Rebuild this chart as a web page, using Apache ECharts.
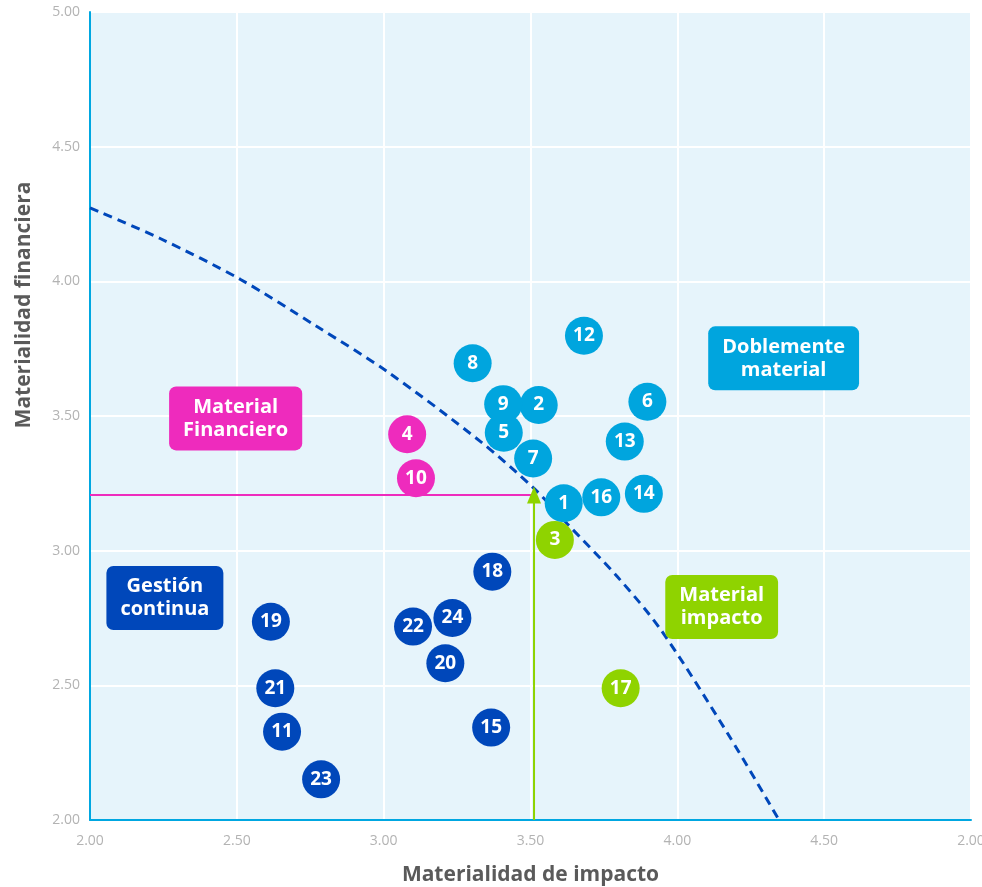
<!DOCTYPE html>
<html>
<head>
<meta charset="utf-8">
<script src="https://cdn.jsdelivr.net/npm/echarts@6/dist/echarts.min.js"></script>
<style>
  html, body { margin: 0; padding: 0; background: #fff; }
  #chart { width: 982px; height: 887px; }
</style>
</head>
<body>
<div id="chart"></div>
<script>
// Datos de la matriz de doble materialidad
const ids = [1, 2, 3, 4, 5, 6, 7, 8, 9, 10, 11, 12, 13, 14, 15, 16, 17, 18, 19, 20, 21, 22, 23, 24];
const impacto = [3.613, 3.528, 3.583, 3.080, 3.409, 3.898, 3.509, 3.303, 3.407, 3.110, 2.654, 3.682,
  3.821, 3.886, 3.366, 3.741, 3.807, 3.370, 2.616, 3.210, 2.631, 3.100, 2.787, 3.234];
const financiera = [3.176, 3.541, 3.040, 3.432, 3.438, 3.553, 3.342, 3.696, 3.544, 3.269, 2.328, 3.798,
  3.405, 3.211, 2.343, 3.198, 2.489, 2.922, 2.736, 2.582, 2.489, 2.718, 2.151, 2.750];
const grupos = ['doble', 'doble', 'impacto', 'financiero', 'doble', 'doble', 'doble', 'doble', 'doble',
  'financiero', 'gestion', 'doble', 'doble', 'doble', 'gestion', 'doble', 'impacto', 'gestion',
  'gestion', 'gestion', 'gestion', 'gestion', 'gestion', 'gestion'];

// Curva de umbral (trazo discontinuo)
const curvaX = [2.0, 2.239, 2.511, 2.773, 3.012, 3.33, 3.511, 3.625, 3.796, 3.944, 4.171, 4.346];
const curvaY = [4.273, 4.159, 4.008, 3.832, 3.665, 3.405, 3.232, 3.10, 2.903, 2.706, 2.322, 2.0];

// Umbrales
const umbralFinanciero = 3.207;
const umbralImpacto = 3.512;

// Ejes
const xTickLabels = ['2.00', '2.50', '3.00', '3.50', '4.00', '4.50', '2.00'];
const yTickLabels = ['2.00', '2.50', '3.00', '3.50', '4.00', '4.50', '5.00'];

// Etiquetas de cuadrantes
const cuadrantes = [
  { grupo: 'financiero', texto: 'Material\nFinanciero', x: 2.496, y: 3.491 },
  { grupo: 'doble', texto: 'Doblemente\nmaterial', x: 4.362, y: 3.714 },
  { grupo: 'gestion', texto: 'Gestión\ncontinua', x: 2.255, y: 2.824 },
  { grupo: 'impacto', texto: 'Material\nimpacto', x: 4.151, y: 2.791 }
];

const colores = {
  doble: '#00a5de',
  financiero: '#ee2bbd',
  gestion: '#0047ba',
  impacto: '#8fd300'
};

const fuente = "'Open Sans', sans-serif";

// series de burbujas, una por grupo
const burbujas = ['gestion', 'financiero', 'impacto', 'doble'].map((g) => ({
  name: g,
  type: 'scatter',
  z: 5,
  symbolSize: 38,
  itemStyle: { color: colores[g], opacity: 1 },
  label: {
    show: true,
    position: 'inside',
    color: '#fff',
    fontFamily: fuente,
    fontWeight: 'bold',
    fontSize: 19,
    formatter: (p) => String(p.value[2])
  },
  data: ids
    .map((id, i) => [impacto[i], financiera[i], id, grupos[i]])
    .filter((d) => d[3] === g)
    .map((d) => [d[0], d[1], d[2]])
}));

const chart = echarts.init(document.getElementById('chart'), null, { renderer: 'canvas' });

chart.setOption({
  animation: false,
  grid: {
    left: 90, right: 11, top: 12, bottom: 67,
    containLabel: false,
    outerBoundsMode: 'none',
    show: true,
    backgroundColor: '#e6f4fb',
    borderWidth: 0
  },
  xAxis: {
    type: 'value',
    min: 2, max: 5, interval: 0.5,
    name: 'Materialidad de impacto',
    nameLocation: 'middle',
    nameGap: 45,
    nameTextStyle: { fontFamily: fuente, fontWeight: 'bold', fontSize: 21, color: '#5a5a5a' },
    axisLine: { show: true, lineStyle: { color: '#00a7e1', width: 2 } },
    axisTick: { show: false },
    axisLabel: {
      margin: 14,
      color: '#b3b3b3',
      fontFamily: fuente,
      fontSize: 14,
      formatter: (v) => xTickLabels[Math.round((v - 2) / 0.5)]
    },
    splitLine: { show: true, lineStyle: { color: '#ffffff', width: 2 } }
  },
  yAxis: {
    type: 'value',
    min: 2, max: 5, interval: 0.5,
    name: 'Materialidad financiera',
    nameLocation: 'middle',
    nameGap: 55,
    nameRotate: 90,
    nameTextStyle: {
      fontFamily: fuente, fontWeight: 'bold', fontSize: 21, color: '#5a5a5a',
      padding: [0, 0, 0, 222]
    },
    axisLine: { show: true, lineStyle: { color: '#00a7e1', width: 2 } },
    axisTick: { show: false },
    axisLabel: {
      margin: 10,
      color: '#b3b3b3',
      fontFamily: fuente,
      fontSize: 14,
      formatter: (v) => yTickLabels[Math.round((v - 2) / 0.5)]
    },
    splitLine: { show: true, lineStyle: { color: '#ffffff', width: 2 } }
  },
  series: [
    {
      name: 'curva',
      type: 'line',
      z: 2,
      smooth: 0.3,
      symbol: 'none',
      lineStyle: { color: '#0047ba', width: 3, type: [9, 6] },
      data: curvaX.map((x, i) => [x, curvaY[i]])
    },
    {
      name: 'umbral financiero',
      type: 'line',
      z: 3,
      symbol: 'none',
      lineStyle: { color: colores.financiero, width: 2 },
      data: [[2, umbralFinanciero], [umbralImpacto, umbralFinanciero]]
    },
    {
      name: 'umbral impacto',
      type: 'line',
      z: 3,
      symbol: 'none',
      lineStyle: { color: colores.impacto, width: 2 },
      itemStyle: { color: colores.impacto },
      data: [
        [umbralImpacto, 2],
        { value: [umbralImpacto, umbralFinanciero], symbol: 'triangle', symbolSize: [14, 17] }
      ]
    },
    ...burbujas,
    {
      name: 'cuadrantes',
      type: 'scatter',
      z: 10,
      symbolSize: 0,
      itemStyle: { opacity: 1 },
      label: {
        show: true,
        position: 'inside',
        align: 'center',
        verticalAlign: 'middle',
        color: '#fff',
        fontFamily: fuente,
        fontWeight: 'bold',
        fontSize: 20,
        lineHeight: 23,
        padding: [9, 14],
        borderRadius: 7,
        opacity: 1,
        formatter: (p) => p.data.texto
      },
      data: cuadrantes.map((c) => ({
        value: [c.x, c.y],
        texto: c.texto,
        label: { backgroundColor: colores[c.grupo] }
      }))
    }
  ]
});
</script>
</body>
</html>
